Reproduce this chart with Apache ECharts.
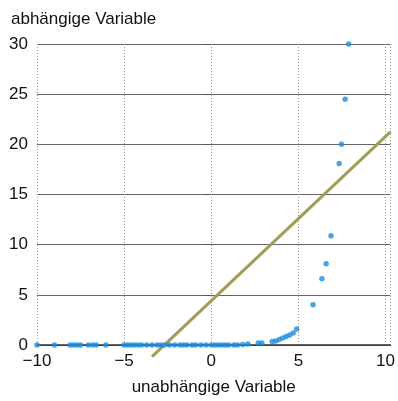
<!DOCTYPE html>
<html>
<head>
<meta charset="utf-8">
<script src="https://cdn.jsdelivr.net/npm/echarts@6/dist/echarts.min.js"></script>
<style>
  html, body { margin: 0; padding: 0; background: #fff; }
  #chart { width: 398px; height: 401px; }
</style>
</head>
<body>
<div id="chart"></div>
<script>
var xWerte = [-10, -9, -8.1, -7.9, -7.7, -7.5, -7.05, -6.8, -6.6, -6.05,
  -5.0, -4.8, -4.6, -4.4, -4.2, -4.0, -3.7, -3.4, -3.1, -2.9, -2.7, -2.4, -2.1,
  -1.8, -1.6, -1.4, -1.1, -0.9, -0.6, -0.3, 0, 0.2, 0.4, 0.6, 0.8, 1.0, 1.3,
  1.5, 1.8, 2.1, 2.7, 2.9, 3.5, 3.7, 3.9, 4.1, 4.3, 4.5, 4.7, 4.9,
  5.84, 6.35, 6.59, 6.87, 7.34, 7.47, 7.68, 7.88];
var yWerte = [0, 0, 0, 0, 0, 0, 0, 0, 0, 0,
  0, 0, 0, 0, 0, 0, 0, 0, 0, 0, 0, 0, 0,
  0, 0, 0, 0, 0, 0, 0, 0, 0, 0, 0, 0, 0, 0,
  0, 0.05, 0.1, 0.2, 0.2, 0.35, 0.4, 0.55, 0.7, 0.85, 1.0, 1.2, 1.6,
  4.0, 6.6, 8.1, 10.9, 18.1, 20.0, 24.5, 30.0];
// Regressionsgerade: Anfangs- und Endpunkt
var geradeX = [-3.4, 10.28];
var geradeY = [-1.15, 21.25];

var punkte = xWerte.map(function (x, i) { return [x, yWerte[i]]; });
var gerade = geradeX.map(function (x, i) { return [x, geradeY[i]]; });

var schrift = "'Liberation Sans', Arial, sans-serif";
var chart = echarts.init(document.getElementById('chart'), null, { renderer: 'canvas' });

var option = {
  backgroundColor: '#fff',
  animation: false,
  title: {
    text: 'abhängige Variable',
    left: 6,
    top: 6,
    textStyle: { fontFamily: schrift, fontSize: 17, fontWeight: 'normal', color: '#111' }
  },
  grid: { left: 37, right: 0, top: 44, bottom: 50.5 },
  xAxis: {
    type: 'value',
    min: -10,
    max: 10.28,
    interval: 5,
    name: 'unabhängige Variable',
    nameLocation: 'middle',
    nameGap: 34,
    nameTextStyle: { fontFamily: schrift, fontSize: 17, color: '#111' },
    axisLine: { onZero: true, lineStyle: { color: '#333', width: 1.5 } },
    axisTick: { show: false },
    axisLabel: {
      fontFamily: schrift, fontSize: 17, color: '#111', margin: 8,
      formatter: function (v) {
        if (v % 5 !== 0) return '';
        return v < 0 ? '\u2212' + Math.abs(v) : String(v);
      }
    },
    splitLine: { show: true, lineStyle: { color: '#999', type: [1, 2], width: 1 } }
  },
  yAxis: {
    type: 'value',
    min: 0,
    max: 30,
    interval: 5,
    axisLine: { show: false },
    axisTick: { show: true, length: 7, lineStyle: { color: '#555' } },
    axisLabel: { fontFamily: schrift, fontSize: 17, color: '#111', margin: 9 },
    splitLine: { show: true, lineStyle: { color: '#666', width: 1.2 } }
  },
  series: [
    {
      type: 'line',
      data: gerade,
      clip: false,
      symbol: 'none',
      z: 3,
      lineStyle: { color: '#a39c55', width: 3 }
    },
    {
      type: 'scatter',
      data: punkte,
      clip: false,
      symbolSize: 5.5,
      z: 4,
      itemStyle: { color: '#1a8de2' }
    }
  ]
};
chart.setOption(option);
</script>
</body>
</html>
